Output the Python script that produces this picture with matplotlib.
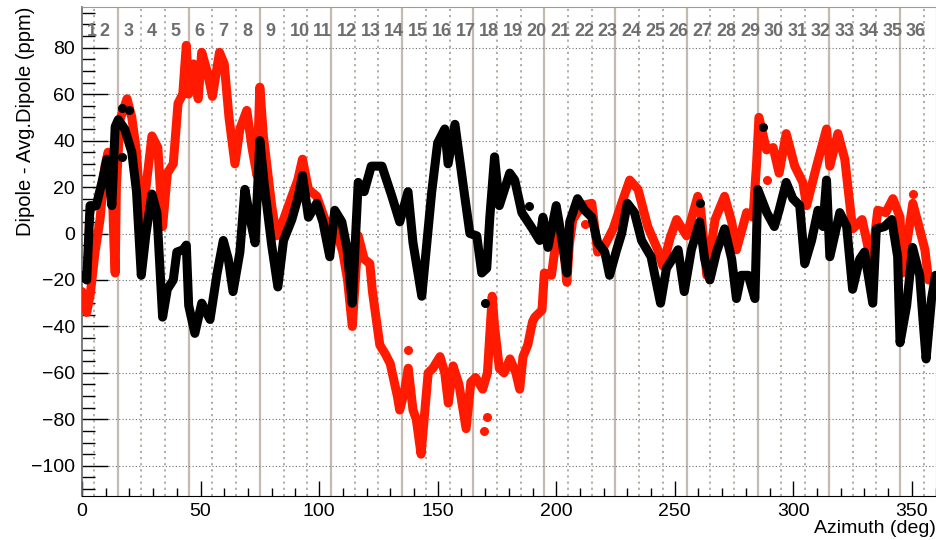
import numpy as np
import matplotlib
matplotlib.use('Agg')
import matplotlib.pyplot as plt
from matplotlib.ticker import MultipleLocator

plt.rcParams['font.family'] = ['Liberation Sans', 'DejaVu Sans']

# red series (azimuth deg, dipole - avg dipole ppm)
red_az = [0, 1, 2, 3.5, 5.5, 7.6, 9.7, 11, 12.5, 13.5, 14, 14.5, 16, 19, 21, 23, 25, 27, 29.5, 32,
          34, 36, 38.5, 40.5, 42.5, 44, 45, 47, 49, 50.5, 53, 55, 58, 60, 62, 64.5, 66.6, 69.5, 71.7, 73.8,
          75, 76.5, 80, 82, 85, 88.5, 91, 93, 95.5, 99, 102.5, 106.7, 110, 112, 114, 116.5, 119, 121.4, 122.5, 124,
          125.6, 128, 130, 133, 134, 136, 137.6, 139.6, 141, 143, 146, 148, 151, 153, 154.5, 156.5, 159, 162, 164, 166,
          169, 171, 173, 174, 176, 178, 180.5, 183, 184.6, 186, 188, 190, 191, 194, 195, 198, 200.7, 202.5, 204.5, 205.5,
          207, 210.8, 215, 217.5, 220, 224, 227.6, 231, 234.5, 238.6, 242.8, 245, 248, 250.8, 255, 259.7, 261, 263.5, 267, 271,
          274, 276, 280.3, 283, 284.5, 285.5, 288.7, 291.5, 294, 297, 300.6, 304, 305.6, 309.8, 314, 315.4, 318.8, 321.7, 325, 329,
          333, 335.6, 339, 342, 345, 346, 350.4, 353, 355.5, 357, 360]
red_val = [-25, -28, -34, -26, -8, 6, 29, 35, 30, -5, -17, 20, 49, 58, 50, 35, 3, 20, 42, 37,
           3, 26, 30, 56, 60, 81, 60, 73, 58, 78, 69, 59, 78, 73, 50, 30, 45, 53, 37, 25,
           63, 42, 12, -1, 6, 16, 23, 32, 19, 16, 6, 3, -8, -20, -40, -1, -11, -13, -25, -36,
           -48, -52, -56, -70, -76, -68, -58, -76, -80, -95, -60, -58, -53, -60, -73, -57, -65, -84, -64, -62,
           -67, -60, -27, -40, -58, -60, -54, -60, -67, -53, -48, -38, -36, -33, -17, -18, 3, 0, -21, -5,
           6, 12, 13, -8, -6, 2, 13, 23, 19, 3, -7, -14, -2, 6, -1, 16, 10, -18, 6, 16,
           5, -7, 9, 7, 30, 50, 36, 37, 26, 43, 29, 22, 12, 29, 45, 29, 43, 32, 2, 6,
           -13, 10, 9, 15, 7, -17, 13, 3, -7, -20, -20]

# black series
blk_az = [0, 2, 3.4, 6, 8.4, 10.5, 12.6, 14, 15.3, 18, 21, 23, 25, 27, 29.5, 31.6, 34, 36, 38.5, 40,
          42.6, 44, 45, 47.6, 50.5, 54, 57, 59.6, 61.7, 63.7, 66.6, 68.7, 70.8, 73, 75, 77, 80, 82.6, 85, 88.5,
          91, 93, 95.5, 99, 101.6, 104.5, 106.6, 109.6, 111.7, 114, 116.5, 119, 122, 126.5, 130.7, 134, 137.5, 139.6, 143.3, 147.5,
          150, 153, 154.4, 157.3, 160.6, 163.6, 166.5, 168.6, 170.7, 172, 174, 176, 180.4, 182.5, 185.5, 190, 193, 194.4, 196.5, 200,
          202, 204.5, 205.7, 209, 212, 215, 217.5, 220.5, 222.5, 225.5, 227.6, 230, 233, 236, 240, 244, 246.5, 251.4, 254, 257,
          260.5, 262.6, 264.8, 267.6, 271, 274, 276, 278, 281, 283.8, 285, 288.8, 292, 294, 297, 299.8, 302.7, 304.8, 307.7, 310.4,
          312.5, 314, 315.4, 319.6, 322.5, 325, 328, 330, 333.5, 335, 338.5, 341.5, 344, 345, 347.8, 350.3, 353.3, 354.6, 356, 358.3,
          360]
blk_val = [-18, -20, 12, 12, 22, 32, 12, 46, 49, 45, 35, 18, -18, 0, 17, 9, -36, -24, -20, -8,
           -7, -5, -31, -43, -30, -37, -17, -3, -11, -25, -8, 19, 7, -4, 40, 20, -5, -23, -3, 6,
           15, 25, 7, 13, 5, -10, 10, 5, -6, -30, 22, 18, 29, 29, 16, 5, 18, -4, -27, 18,
           39, 45, 30, 47, 22, 0, -1, -17, -15, 7, 33, 12, 26, 23, 9, 2, -3, 7, -6, 12,
           0, -17, 5, 15, 10, 7, -4, -8, -18, -7, 0, 13, 9, -3, -10, -30, -15, -7, -25, -7,
           5, -11, -20, -8, 2, -11, -28, -18, -18, -28, 19, 9, 3, 10, 22, 15, 12, -13, -3, 10,
           3, 23, -10, 9, 3, -24, -11, -8, -30, 2, 3, 6, -10, -47, -31, -6, -18, -36, -54, -28,
           -18]

# stray single points
red_out_az = [137.6, 169.5, 170.6, 212, 289, 350.4]
red_out_val = [-50, -85, -79, 4, 23, 17]
blk_out_az = [16.8, 20, 17, 170, 188.5, 260.5, 287]
blk_out_val = [54, 53, 33, -30, 12, 13, 46]

sectors = [str(i) for i in range(1, 37)]

red = '#ff1a00'

fig = plt.figure(figsize=(9.37, 5.40), dpi=100)
ax = fig.add_axes([0.0875, 0.0815, 0.911, 0.9055])

# sector boundaries
for d in range(5, 360, 10):
    if (d - 15) % 30 == 0:
        ax.axvline(d, color='#c4bab0', lw=1.6, zorder=1)
    else:
        ax.axvline(d, color='#b0a69c', lw=1.3, ls=(0, (1.2, 2.2)), zorder=1)

ax.yaxis.grid(True, color='#707070', lw=0.8, ls=(0, (1, 2)), zorder=0)

ax.plot(red_az, red_val, color=red, lw=6.5, solid_joinstyle='round', solid_capstyle='round', zorder=3)
ax.plot(red_out_az, red_out_val, 'o', color=red, ms=5.5, zorder=3)
ax.plot(blk_az, blk_val, color='black', lw=6.5, solid_joinstyle='round', solid_capstyle='round', zorder=4)
ax.plot(blk_out_az, blk_out_val, 'o', color='black', ms=5.5, zorder=4)

for i, s in enumerate(sectors):
    xpos = 2 if i == 0 else 10 * i - 2.5
    ax.text(xpos, 87, s, ha='left', va='center', fontsize=13, fontweight='bold', color='#6e6e6e', zorder=5)

ax.set_xlim(0, 360)
ax.set_ylim(-113, 97.5)
ax.xaxis.set_major_locator(MultipleLocator(50))
ax.xaxis.set_minor_locator(MultipleLocator(10))
ax.yaxis.set_major_locator(MultipleLocator(20))
ax.yaxis.set_minor_locator(MultipleLocator(5))
ax.tick_params(axis='both', which='both', direction='in', labelsize=14, top=False, right=False)
ax.tick_params(axis='y', which='major', length=18.5, width=1, pad=5)
ax.tick_params(axis='y', which='minor', length=9.5, width=1)
ax.tick_params(axis='x', which='major', length=11, width=1, pad=5)
ax.tick_params(axis='x', which='minor', length=6, width=1)

for sp in ['top', 'right']:
    ax.spines[sp].set_color('#9a9a9a')
ax.spines['left'].set_color('#666666')
ax.spines['left'].set_linewidth(1.2)

ax.set_xlabel('Azimuth (deg)', loc='right', fontsize=14, labelpad=0)
ax.set_ylabel('Dipole - Avg.Dipole (ppm)', loc='top', fontsize=14.5, labelpad=-3)

plt.savefig('out.png', dpi=100)
